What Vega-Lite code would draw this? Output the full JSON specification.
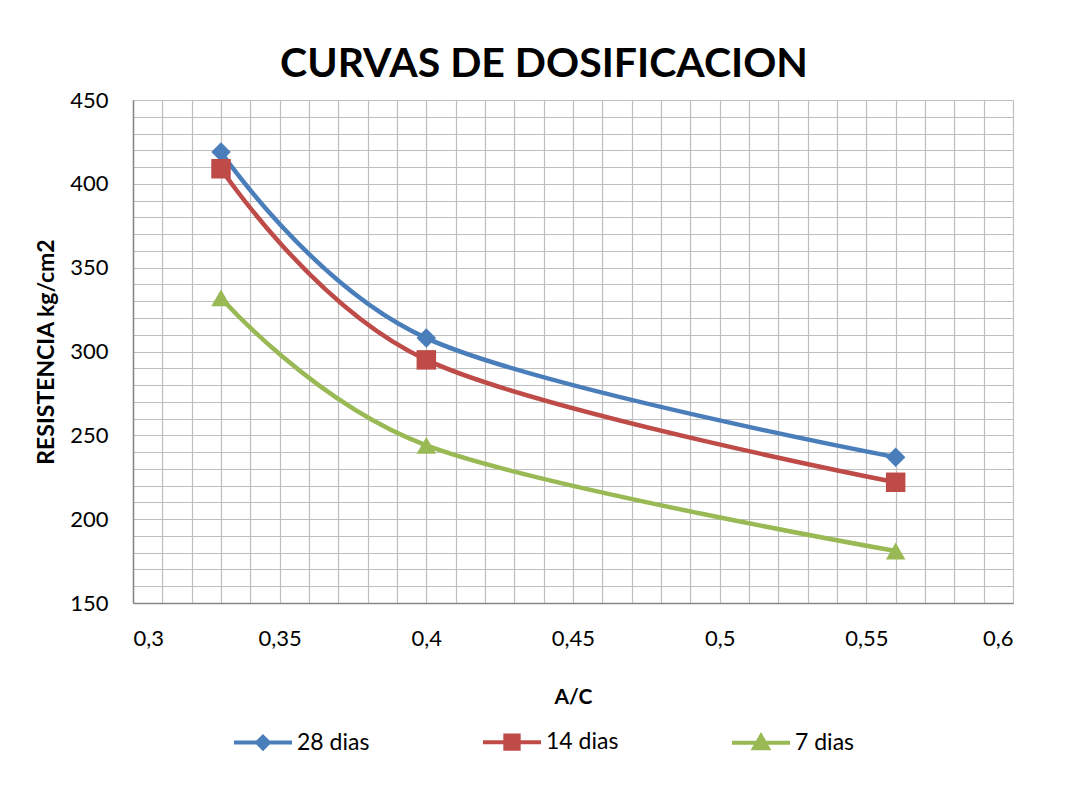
{
  "$schema": "https://vega.github.io/schema/vega-lite/v6.json",
  "autosize": {"type": "none"},
  "width": 880,
  "height": 503,
  "padding": {"left": 133, "top": 100, "right": 57, "bottom": 203},
  "background": "white",
  "config": {
    "view": {"stroke": null},
    "font": "Lato",
    "axis": {"labelFont": "Lato", "titleFont": "Lato", "labelColor": "#000000", "titleColor": "#000000"},
    "legend": {
      "orient": "none",
      "legendX": 99,
      "legendY": 611,
      "direction": "horizontal",
      "columns": 3,
      "columnPadding": 105,
      "padding": 0,
      "labelFont": "Lato",
      "labelFontSize": 23,
      "labelColor": "#000000",
      "labelOffset": 3,
      "symbolSize": 3364,
      "symbolStrokeWidth": 4,
      "symbolOpacity": 1
    }
  },
  "title": {
    "text": "CURVAS DE DOSIFICACION",
    "font": "Lato",
    "fontSize": 41,
    "fontWeight": "bold",
    "color": "#000000",
    "anchor": "middle",
    "frame": "group",
    "dx": -29,
    "offset": 3
  },
  "data": {
    "values": [
      {"ac": 0.33, "serie": "28 dias", "res": 419},
      {"ac": 0.40, "serie": "28 dias", "res": 308},
      {"ac": 0.56, "serie": "28 dias", "res": 237},
      {"ac": 0.33, "serie": "14 dias", "res": 409},
      {"ac": 0.40, "serie": "14 dias", "res": 295},
      {"ac": 0.56, "serie": "14 dias", "res": 222},
      {"ac": 0.33, "serie": "7 dias", "res": 332},
      {"ac": 0.40, "serie": "7 dias", "res": 244},
      {"ac": 0.56, "serie": "7 dias", "res": 181}
    ]
  },
  "encoding": {
    "x": {
      "field": "ac",
      "type": "quantitative",
      "title": "A/C",
      "scale": {"domain": [0.3, 0.6], "nice": false, "zero": false},
      "axis": {
        "values": [0.3,0.31,0.32,0.33,0.34,0.35,0.36,0.37,0.38,0.39,0.4,0.41,0.42,0.43,0.44,0.45,0.46,0.47,0.48,0.49,0.5,0.51,0.52,0.53,0.54,0.55,0.56,0.57,0.58,0.59,0.6],
        "labelExpr": "round(datum.value*100) % 5 == 0 ? replace(format(datum.value, '~g'), '.', ',') : ''",
        "labelOverlap": false,
        "labelFontSize": 22,
        "labelPadding": 25,
        "ticks": false,
        "domainColor": "#868686",
        "domainWidth": 1.5,
        "gridColor": "#BEBEBE",
        "gridWidth": 1.2,
        "gridOpacity": 1,
        "titleFontSize": 21,
        "titleFontWeight": "bold",
        "titlePadding": 37
      }
    },
    "y": {
      "field": "res",
      "type": "quantitative",
      "title": "RESISTENCIA kg/cm2",
      "scale": {"domain": [150, 450], "nice": false, "zero": false},
      "axis": {
        "values": [150,160,170,180,190,200,210,220,230,240,250,260,270,280,290,300,310,320,330,340,350,360,370,380,390,400,410,420,430,440,450],
        "labelExpr": "datum.value % 50 == 0 ? format(datum.value, 'd') : ''",
        "labelOverlap": false,
        "labelFontSize": 22,
        "labelPadding": 25,
        "ticks": false,
        "domainColor": "#868686",
        "domainWidth": 1.5,
        "gridColor": "#BEBEBE",
        "gridWidth": 1.2,
        "gridOpacity": 1,
        "titleFontSize": 23,
        "titleFontWeight": "bold",
        "titlePadding": 11
      }
    }
  },
  "resolve": {"scale": {"color": "independent", "shape": "independent", "fill": "independent", "stroke": "independent"}},
  "layer": [
    {
      "mark": {"type": "line", "interpolate": "cardinal", "strokeWidth": 4.5},
      "encoding": {
        "color": {
          "field": "serie",
          "type": "nominal",
          "scale": {"domain": ["28 dias", "14 dias", "7 dias"], "range": ["#4A7EBB", "#BE4B48", "#98B954"]},
          "legend": null
        }
      }
    },
    {
      "mark": {"type": "point", "filled": true, "size": 380, "opacity": 1},
      "encoding": {
        "color": {
          "field": "serie",
          "type": "nominal",
          "scale": {"domain": ["28 dias", "14 dias", "7 dias"], "range": ["#4A7EBB", "#BE4B48", "#98B954"]},
          "legend": null
        },
        "shape": {
          "field": "serie",
          "type": "nominal",
          "scale": {"domain": ["28 dias", "14 dias", "7 dias"], "range": ["diamond", "square", "triangle-up"]},
          "legend": null
        }
      }
    },
    {
      "transform": [{"filter": "false"}],
      "mark": {"type": "point", "filled": true, "opacity": 1},
      "encoding": {
        "fill": {
          "field": "serie",
          "type": "nominal",
          "scale": {"domain": ["28 dias", "14 dias", "7 dias"], "range": ["#4A7EBB", "#BE4B48", "#98B954"]},
          "legend": {"title": null}
        },
        "stroke": {
          "field": "serie",
          "type": "nominal",
          "scale": {"domain": ["28 dias", "14 dias", "7 dias"], "range": ["#4A7EBB", "#BE4B48", "#98B954"]},
          "legend": {"title": null}
        },
        "shape": {
          "field": "serie",
          "type": "nominal",
          "scale": {"domain": ["28 dias", "14 dias", "7 dias"], "range": ["M-1,0H1M0,-0.2L0.2,0L0,0.2L-0.2,0Z", "M-1,0H1M-0.23,-0.23H0.23V0.23H-0.23Z", "M-1,0H1M0,-0.23L0.24,0.19L-0.24,0.19Z"]},
          "legend": {"title": null}
        }
      }
    }
  ]
}
